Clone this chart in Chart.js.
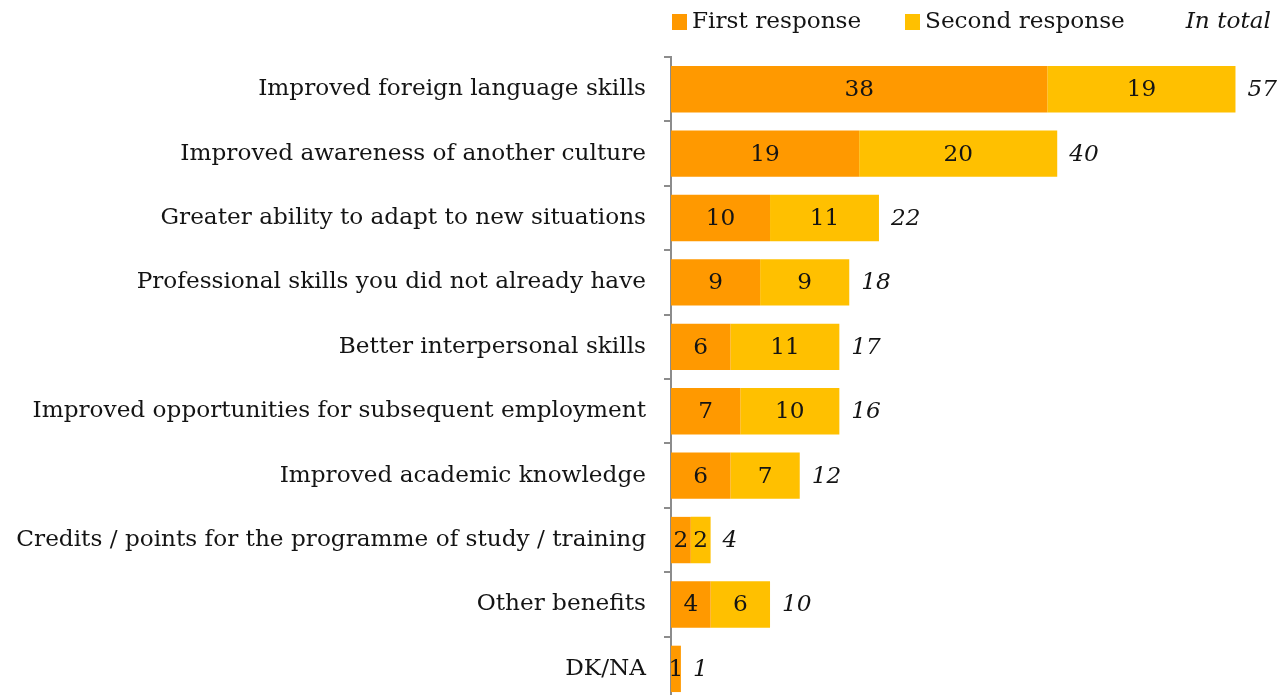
<!DOCTYPE html>
<html>
<head>
<meta charset="utf-8">
<script src="https://cdn.jsdelivr.net/npm/chart.js@4.4.1/dist/chart.umd.min.js"></script>
<style>
  html, body { margin: 0; padding: 0; background: #fff; overflow: hidden; }
  canvas { display: block; }
</style>
</head>
<body>
<canvas id="chart" width="1287" height="733"></canvas>
<script>
const categories = [
  'Improved foreign language skills',
  'Improved awareness of another culture',
  'Greater ability to adapt to new situations',
  'Professional skills you did not already have',
  'Better interpersonal skills',
  'Improved opportunities for subsequent employment',
  'Improved academic knowledge',
  'Credits / points for the programme of study / training',
  'Other benefits',
  'DK/NA'
];
const firstResponse  = [38, 19, 10, 9, 6, 7, 6, 2, 4, 1];
const secondResponse = [19, 20, 11, 9, 11, 10, 7, 2, 6, 0];
const inTotal        = [57, 40, 22, 18, 17, 16, 12, 4, 10, 1];
const seriesNames = ['First response', 'Second response'];
const totalHeading = 'In total';

const FONT = '"DejaVu Serif", Georgia, serif';
const FONT_SIZE = 23.2;
const TEXT = '#141414';
const ORANGE = '#FF9900';
const YELLOW = '#FFC000';
const AXIS_WIDTH = 657;

// Numbers inside each segment plus the italic total after each bar
const barLabels = {
  id: 'barLabels',
  afterDatasetsDraw(chart) {
    const ctx = chart.ctx;
    ctx.save();
    ctx.fillStyle = TEXT;
    ctx.textBaseline = 'middle';
    chart.data.datasets.forEach((ds, di) => {
      const meta = chart.getDatasetMeta(di);
      meta.data.forEach((bar, i) => {
        const v = ds.data[i];
        if (!v) return;
        ctx.font = FONT_SIZE + 'px ' + FONT;
        ctx.textAlign = 'center';
        ctx.fillText(String(v), (bar.x + bar.base) / 2, bar.y + 1);
      });
    });
    const last = chart.getDatasetMeta(chart.data.datasets.length - 1);
    const firstMeta = chart.getDatasetMeta(0);
    ctx.font = 'italic ' + FONT_SIZE + 'px ' + FONT;
    ctx.textAlign = 'left';
    inTotal.forEach((t, i) => {
      const end = Math.max(last.data[i].x, firstMeta.data[i].x);
      ctx.fillText(String(t), end + 12, last.data[i].y + 1);
    });
    ctx.restore();
  }
};

// Legend row across the top, with the "In total" heading at the right
const topLegend = {
  id: 'topLegend',
  afterDraw(chart) {
    const ctx = chart.ctx;
    ctx.save();
    ctx.textBaseline = 'middle';
    ctx.textAlign = 'left';
    ctx.font = FONT_SIZE + 'px ' + FONT;
    const y = 22;
    const starts = [672, 905];
    chart.data.datasets.forEach((ds, i) => {
      ctx.fillStyle = ds.backgroundColor;
      ctx.fillRect(starts[i], y - 8, 15, 16);
      ctx.fillStyle = TEXT;
      ctx.fillText(ds.label, starts[i] + 20, y);
    });
    ctx.font = 'italic ' + FONT_SIZE + 'px ' + FONT;
    ctx.textAlign = 'right';
    ctx.fillText(totalHeading, 1271, y);
    ctx.restore();
  }
};

new Chart(document.getElementById('chart'), {
  type: 'bar',
  data: {
    labels: categories,
    datasets: [
      { label: seriesNames[0], data: firstResponse, backgroundColor: ORANGE },
      { label: seriesNames[1], data: secondResponse, backgroundColor: YELLOW }
    ]
  },
  options: {
    indexAxis: 'y',
    responsive: false,
    animation: false,
    layout: { padding: { top: 57, right: 2, left: 14, bottom: 2 } },
    datasets: { bar: { categoryPercentage: 0.72, barPercentage: 1.0, borderWidth: 0 } },
    scales: {
      x: {
        stacked: true,
        min: 0,
        max: 62,
        display: false
      },
      y: {
        stacked: true,
        afterFit(scale) { scale.width = AXIS_WIDTH; },
        border: { display: true, color: '#8c8c8c', width: 2 },
        grid: { offset: true, drawOnChartArea: false, drawTicks: true, tickLength: 7, color: '#8c8c8c', lineWidth: 2 },
        ticks: { color: TEXT, padding: 18, font: { family: FONT, size: FONT_SIZE } }
      }
    },
    plugins: {
      legend: { display: false },
      tooltip: { enabled: false }
    }
  },
  plugins: [barLabels, topLegend]
});
</script>
</body>
</html>
